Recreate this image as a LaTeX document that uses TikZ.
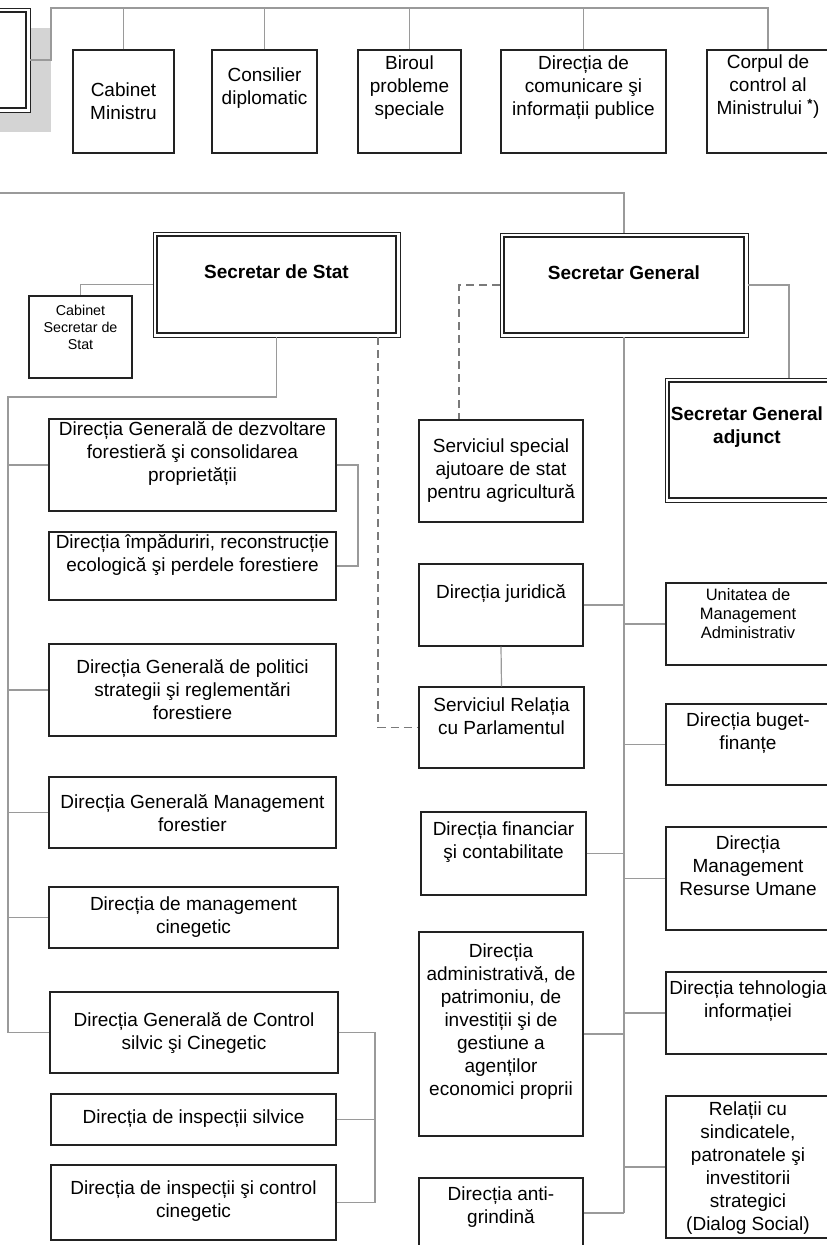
\documentclass[tikz,border=0pt]{standalone}
\usepackage{fontspec}
\setmainfont{Liberation Sans}
\definecolor{boxc}{HTML}{222222}
\definecolor{linec}{HTML}{9A9A9A}
\definecolor{dashc}{HTML}{7A7A7A}
\definecolor{shadec}{HTML}{D4D4D4}
\newcommand\bx[6][box]{\node[#1, minimum width={#5-#3}, minimum height={#6-#4}] (#2) at ({(#3+#5)/2},{(#4+#6)/2}) {};}
\newcommand\dbl[1]{\draw[draw=boxc, line width=1.8pt] ([shift={(4.5pt,4.5pt)}]#1.south west) rectangle ([shift={(-4.5pt,-4.5pt)}]#1.north east);}
\begin{document}
\begin{tikzpicture}[x=1pt,y=-1pt,
 box/.style={draw=boxc, line width=1.3pt, fill=white, inner sep=0pt},
 obox/.style={draw=boxc, line width=0.9pt, fill=white, inner sep=0pt},
 txt/.style={align=center, inner sep=0pt, font=\fontsize{19}{23}\selectfont},
 stxt/.style={align=center, inner sep=0pt, font=\fontsize{14.3}{17}\selectfont},
 mtxt/.style={align=center, inner sep=0pt, font=\fontsize{16.5}{19}\selectfont},
 btxt/.style={align=center, inner sep=0pt, font=\fontsize{19}{23}\selectfont\bfseries},
 conn/.style={draw=linec, line width=1.2pt},
 dconn/.style={draw=dashc, line width=1.2pt, dash pattern=on 8pt off 5pt}]
\useasboundingbox (0,0) rectangle (827,1245);
\fill[white] (0,0) rectangle (827,1245);

% ---- top section
\fill[shadec] (-5,28) rectangle (51,132);
\bx[obox]{min}{-20}{8}{30}{112}
\dbl{min}
\bx{cab}{73}{50}{174}{153}
\bx{cons}{212}{50}{317}{153}
\bx{bir}{358}{50}{461}{153}
\bx{dcom}{501}{50}{666}{153}
\bx{corp}{707}{50}{829}{153}
\node[txt] (cabt) at (123.5,101) {Cabinet\\Ministru};
\node[txt] (const) at (264.5,88.5) {Consilier\\diplomatic};
\node[txt] (birt) at (409.5,88) {Biroul\\probleme\\speciale};
\node[txt] (dcomt) at (583.5,88) {Direcția de\\comunicare şi\\informații publice};
\node[txt] (corpt) at (768,87) {Corpul de\\control al\\Ministrului \textsuperscript{\textbf{*}})};
\coordinate (tl) at (51,8);
\draw[conn] (min.east) -- (tl |- min.east) -- (tl) -- (corp.north |- tl) -- (corp.north);
\foreach \n in {cab,cons,bir,dcom} \draw[conn] (\n.north) -- (\n.north |- tl);

% ---- secretaries
\bx[obox]{ss}{153}{232}{400}{337}
\dbl{ss}
\bx[obox]{sg}{500}{233}{748}{337}
\dbl{sg}
\bx[obox]{sga}{665}{378}{834}{502}
\dbl{sga}
\bx{cabss}{29}{296}{132}{378}
\node[btxt] (sst) at (276.5,272) {Secretar de Stat};
\node[btxt] (sgt) at (624,273) {Secretar General};
\node[btxt] (sgat) at (747,427) {Secretar General\\adjunct};
\node[stxt] (cabsst) at (80.5,327) {Cabinet\\Secretar de\\Stat};
\coordinate (hl) at (-5,193);
\draw[conn] (hl) -- (hl -| sg.north) -- (sg.north);
\draw[conn] (ss.west) -- (cabss.north |- ss.west) -- (cabss.north);

% ---- left column
\bx{l1}{49}{419}{336}{511}
\bx{l2}{49}{532}{336}{600}
\bx{l3}{49}{644}{336}{736}
\bx{l4}{49}{777}{336}{848}
\bx{l5}{49}{887}{338}{948}
\bx{l6}{50}{992}{338}{1073}
\bx{l7}{51}{1094}{336}{1145}
\bx{l8}{51}{1165}{336}{1240}
\node[txt] (l1t) at (192.5,454) {Direcția Generală de dezvoltare\\forestieră şi consolidarea\\proprietății};
\node[txt] (l2t) at (192.5,555) {Direcția împăduriri, reconstrucție\\ecologică şi perdele forestiere};
\node[txt] (l3t) at (192.5,690) {Direcția Generală de politici\\strategii şi reglementări\\forestiere};
\node[txt] (l4t) at (192.5,813) {Direcția Generală Management\\forestier};
\node[txt] (l5t) at (193.5,917) {Direcția de management\\cinegetic};
\node[txt] (l6t) at (194,1033) {Direcția Generală de Control\\silvic şi Cinegetic};
\node[txt] (l7t) at (193.5,1119) {Direcția de inspecții silvice};
\node[txt] (l8t) at (193.5,1201) {Direcția de inspecții şi control\\cinegetic};
\coordinate (sp) at (8,397);
\draw[conn] (ss.south) -- (ss.south |- sp) -- (sp) -- (sp |- l6.west) -- (l6.west);
\foreach \n in {l1,l3,l4,l5} \draw[conn] (sp |- \n.west) -- (\n.west);
\coordinate (b1) at (358,0);
\draw[conn] (l1.east) -- (b1 |- l1.east) -- (b1 |- l2.east) -- (l2.east);
\coordinate (b2) at (375,0);
\draw[conn] (l6.east) -- (b2 |- l6.east) -- (b2 |- l8.east) -- (l8.east);
\draw[conn] (l7.east) -- (b2 |- l7.east);

% ---- middle column
\bx{m1}{419}{420}{583}{522}
\bx{m2}{419}{564}{583}{646}
\bx{m3}{419}{687}{584}{768}
\bx{m4}{421}{812}{586}{895}
\bx{m5}{419}{932}{583}{1136}
\bx{m6}{419}{1178}{583}{1248}
\node[txt] (m1t) at (501,471) {Serviciul special\\ajutoare de stat\\pentru agricultură};
\node[txt] (m2t) at (501,594) {Direcția juridică};
\node[txt] (m3t) at (501.5,716) {Serviciul Relația\\cu Parlamentul};
\node[txt] (m4t) at (503.5,842) {Direcția financiar\\şi contabilitate};
\node[txt] (m5t) at (501,1022) {Direcția\\administrativă, de\\patrimoniu, de\\investiții şi de\\gestiune a\\agenților\\economici proprii};
\node[txt] (m6t) at (501,1207) {Direcția anti-\\grindină};
\coordinate (dx) at (378,0);
\draw[dconn] (ss.south -| dx) -- (dx |- m3.west) -- (m3.west);
\coordinate (dx2) at (459,0);
\draw[dconn] (sg.west) -- (dx2 |- sg.west) -- (dx2 |- m1.north);
\draw[conn] (m2.south) -- (m3.north);

% ---- right column
\bx{r1}{666}{583}{834}{665}
\bx{r2}{666}{704}{834}{785}
\bx{r3}{666}{827}{834}{930}
\bx{r4}{666}{972}{834}{1054}
\bx{r5}{666}{1096}{834}{1238}
\node[mtxt] (r1t) at (748,614) {Unitatea de\\Management\\Administrativ};
\node[txt] (r2t) at (748,733) {Direcția buget-\\finanțe};
\node[txt] (r3t) at (748,866) {Direcția\\Management\\Resurse Umane};
\node[txt] (r4t) at (748,1001) {Direcția tehnologia\\informației};
\node[txt] (r5t) at (748,1168) {Relații cu\\sindicatele,\\patronatele şi\\investitorii\\strategici\\(Dialog Social)};
\coordinate (ax) at (789,0);
\draw[conn] (sg.east) -- (ax |- sg.east) -- (ax |- sga.north);
\draw[conn] (sg.south) -- (sg.south |- m6.east);
\foreach \n in {m2,m4,m5,m6} \draw[conn] (\n.east) -- (sg.south |- \n.east);
\foreach \n in {r1,r2,r3,r4,r5} \draw[conn] (sg.south |- \n.west) -- (\n.west);
\end{tikzpicture}
\end{document}
